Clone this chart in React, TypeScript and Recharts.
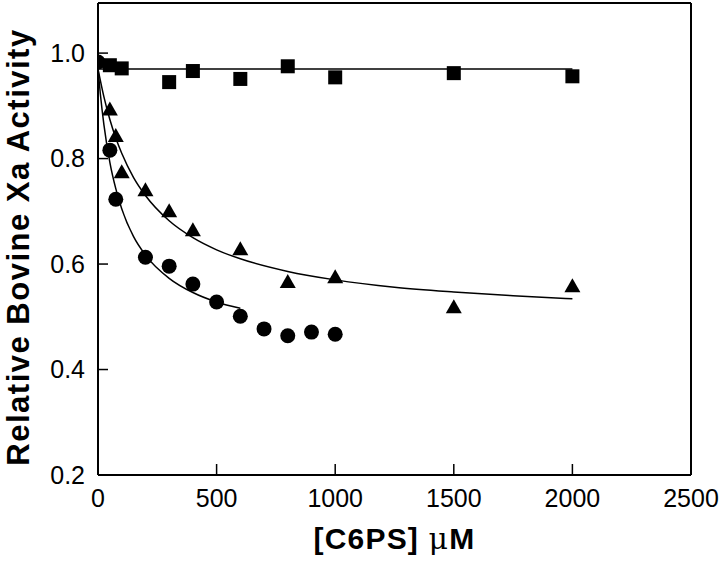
import React from "react";
import {
  ComposedChart,
  Scatter,
  Line,
  XAxis,
  YAxis,
  ReferenceLine,
} from "recharts";

// measured points
const squareX = [50, 100, 300, 400, 600, 800, 1000, 1500, 2000];
const squareY = [0.977, 0.971, 0.945, 0.966, 0.951, 0.975, 0.954, 0.962, 0.956];

const triangleX = [50, 75, 100, 200, 300, 400, 600, 800, 1000, 1500, 2000];
const triangleY = [0.893, 0.843, 0.774, 0.74, 0.7, 0.664, 0.628, 0.566, 0.575, 0.518, 0.558];

const circleX = [0, 50, 75, 200, 300, 400, 500, 600, 700, 800, 900, 1000];
const circleY = [0.983, 0.816, 0.723, 0.613, 0.596, 0.562, 0.528, 0.501, 0.477, 0.464, 0.471, 0.467];

// fitted curves
const flatFitX = [0, 2000];
const flatFitY = [0.97, 0.97];

const triFitX = [0, 25, 50, 75, 100, 150, 200, 300, 400, 500, 600, 800, 1000, 1250, 1500, 1750, 2000];
const triFitY = [0.97, 0.917, 0.874, 0.839, 0.81, 0.764, 0.73, 0.682, 0.65, 0.627, 0.61, 0.586, 0.57, 0.556, 0.547, 0.54, 0.534];

const circFitX = [0, 10, 25, 50, 75, 100, 150, 200, 300, 400, 500, 600];
const circFitY = [0.97, 0.922, 0.864, 0.793, 0.743, 0.705, 0.652, 0.617, 0.573, 0.546, 0.528, 0.516];

const xTicks = [0, 500, 1000, 1500, 2000, 2500];
const yTicks = [0.2, 0.4, 0.6, 0.8, 1.0];

const pts = (xs: number[], ys: number[]) => xs.map((x, i) => ({ x, y: ys[i] }));

const FONT = "'Liberation Sans', Arial, Helvetica, sans-serif";

const SquareDot = (p: any) => (
  <rect x={p.cx - 7} y={p.cy - 7} width={14} height={14} fill="#000" />
);
const TriangleDot = (p: any) => (
  <path
    d={`M${p.cx},${p.cy - 8} L${p.cx + 8},${p.cy + 6} L${p.cx - 8},${p.cy + 6} Z`}
    fill="#000"
  />
);
const CircleDot = (p: any) => <circle cx={p.cx} cy={p.cy} r={7.5} fill="#000" />;

const XTick = ({ x, y, payload }: any) => (
  <g>
    <line x1={x} y1={y} x2={x} y2={y - 11} stroke="#000" strokeWidth={1.5} />
    <text x={x} y={y + 23} dy="0.35em" textAnchor="middle" fontFamily={FONT} fontSize={25} fill="#000">
      {payload.value}
    </text>
  </g>
);

const YTick = ({ x, y, payload }: any) => (
  <g>
    <line x1={x} y1={y} x2={x + 10} y2={y} stroke="#000" strokeWidth={1.5} />
    <text x={x - 13} y={y} dy="0.35em" textAnchor="end" fontFamily={FONT} fontSize={25} fill="#000">
      {payload.value.toFixed(1)}
    </text>
  </g>
);

const XLabel = ({ viewBox }: any) => (
  <text
    x={viewBox.x + viewBox.width / 2}
    y={viewBox.y + 63}
    dy="0.35em"
    textAnchor="middle"
    fontFamily={FONT}
    fontWeight="bold"
    fontSize={30}
    letterSpacing={1.2}
    fill="#000"
  >
    [C6PS]{" "}
    <tspan fontFamily="'DejaVu Serif', 'Liberation Serif', serif" fontWeight="normal">μ</tspan>
    M
  </text>
);

const YLabel = ({ viewBox }: any) => {
  const cx = 18;
  const cy = viewBox.y + viewBox.height / 2 + 8;
  return (
    <text
      x={cx}
      y={cy}
      dy="0.35em"
      transform={`rotate(-90, ${cx}, ${cy})`}
      textAnchor="middle"
      fontFamily={FONT}
      fontWeight="bold"
      fontSize={31}
      letterSpacing={1.5}
      fill="#000"
    >
      Relative Bovine Xa Activity
    </text>
  );
};

export default function App() {
  return (
    <div style={{ position: "absolute", left: 0, top: 0, background: "#fff" }}>
      <ComposedChart width={720} height={561} margin={{ top: 3, right: 29, bottom: 0, left: 0 }}>
        <XAxis
          type="number"
          dataKey="x"
          domain={[0, 2500]}
          ticks={xTicks}
          height={86}
          tickSize={0}
          tickMargin={0}
          tick={<XTick />}
          axisLine={{ stroke: "#000", strokeWidth: 2 }}
          label={<XLabel />}
          allowDataOverflow
        />
        <YAxis
          type="number"
          dataKey="y"
          domain={[0.2, 1.095]}
          ticks={yTicks}
          width={98}
          tickSize={0}
          tickMargin={0}
          tick={<YTick />}
          axisLine={{ stroke: "#000", strokeWidth: 2 }}
          label={<YLabel />}
          allowDataOverflow
        />
        <ReferenceLine y={1.095} stroke="#000" strokeWidth={2} />
        <ReferenceLine x={2500} stroke="#000" strokeWidth={2} />

        <Line data={pts(flatFitX, flatFitY)} dataKey="y" type="linear" stroke="#000" strokeWidth={1.5} dot={false} isAnimationActive={false} />
        <Line data={pts(triFitX, triFitY)} dataKey="y" type="monotone" stroke="#000" strokeWidth={1.5} dot={false} isAnimationActive={false} />
        <Line data={pts(circFitX, circFitY)} dataKey="y" type="monotone" stroke="#000" strokeWidth={1.5} dot={false} isAnimationActive={false} />

        <Scatter data={pts(squareX, squareY)} shape={SquareDot} isAnimationActive={false} />
        <Scatter data={pts(triangleX, triangleY)} shape={TriangleDot} isAnimationActive={false} />
        <Scatter data={pts(circleX, circleY)} shape={CircleDot} isAnimationActive={false} />
      </ComposedChart>
    </div>
  );
}
